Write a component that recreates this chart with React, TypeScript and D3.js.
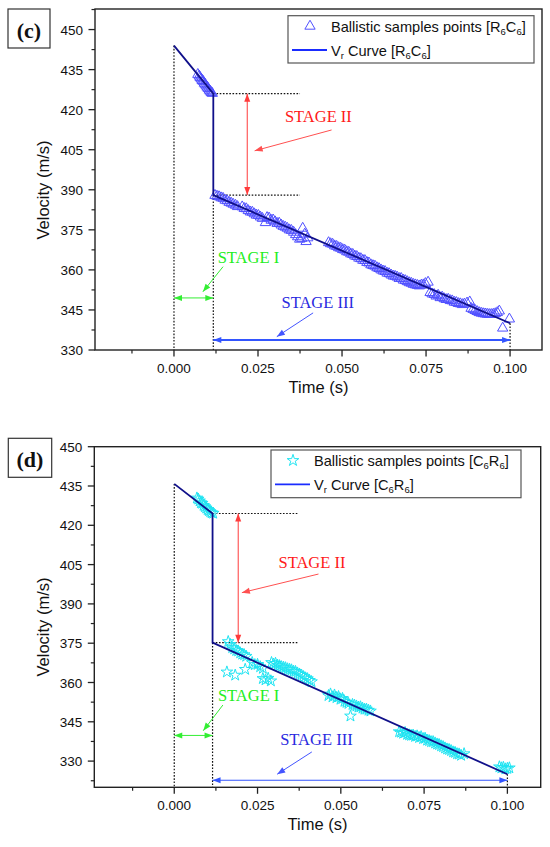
import React from 'react';
import * as d3 from 'd3';

// ---- tick values ----
const yTicksC = [330, 345, 360, 375, 390, 405, 420, 435, 450];
const yTicksD = [330, 345, 360, 375, 390, 405, 420, 435, 450];
const xTicks = [0, 0.025, 0.05, 0.075, 0.1];

// ---- panel (c): R6C6 ----
const curveC: [number, number][] = [[0, 444], [0.0117, 426], [0.0117, 388], [0.1, 340]];
const samplesC: [number, number][] = [
  [0.0071, 433.2], [0.0075, 432.6], [0.0078, 432.0], [0.0081, 431.5], [0.0084, 430.9], [0.0087, 430.6],
  [0.0090, 429.9], [0.0093, 429.5], [0.0096, 428.9], [0.0099, 428.4], [0.0102, 427.9], [0.0105, 427.3],
  [0.0108, 426.9], [0.0111, 426.4], [0.0114, 426.1],
  [0.0122, 387.9], [0.0128, 387.6], [0.0134, 387.4], [0.0140, 387.0], [0.0146, 386.8], [0.0152, 386.1],
  [0.0158, 385.9], [0.0164, 385.3], [0.0170, 385.0], [0.0176, 384.6], [0.0183, 384.2], [0.0189, 383.7],
  [0.0203, 383.6], [0.0209, 383.0], [0.0215, 382.9], [0.0221, 382.2], [0.0227, 381.7], [0.0233, 381.6],
  [0.0239, 381.0], [0.0245, 380.5], [0.0251, 380.4], [0.0257, 379.8], [0.0263, 379.3], [0.0272, 377.7],
  [0.0277, 379.6], [0.0283, 379.4], [0.0289, 378.6], [0.0295, 378.7], [0.0301, 378.0], [0.0307, 377.4],
  [0.0313, 377.5], [0.0319, 376.8], [0.0325, 376.3], [0.0331, 376.0], [0.0337, 375.6], [0.0343, 375.0],
  [0.0349, 374.8], [0.0356, 374.1], [0.0362, 373.2], [0.0368, 372.4], [0.0374, 371.5], [0.0380, 371.8],
  [0.0383, 375.6], [0.0389, 373.4], [0.0393, 370.6], [0.0398, 372.0],
  [0.0460, 370.2], [0.0466, 369.8], [0.0472, 369.6], [0.0478, 369.0], [0.0484, 368.8], [0.0490, 368.3],
  [0.0496, 368.1], [0.0502, 367.6], [0.0508, 367.4], [0.0514, 366.8], [0.0520, 366.6], [0.0526, 366.0],
  [0.0532, 365.8], [0.0538, 365.2], [0.0544, 365.0], [0.0550, 364.4], [0.0556, 364.2],
  [0.0562, 363.6], [0.0568, 363.5], [0.0574, 362.8], [0.0580, 362.6], [0.0586, 361.9], [0.0592, 361.6],
  [0.0598, 361.4], [0.0604, 360.8], [0.0610, 360.5], [0.0616, 360.0], [0.0622, 359.6], [0.0628, 359.4],
  [0.0634, 358.8], [0.0640, 358.6], [0.0646, 358.1], [0.0652, 357.7], [0.0658, 357.6],
  [0.0664, 357.3], [0.0670, 356.8], [0.0676, 356.8], [0.0682, 356.2], [0.0688, 356.0], [0.0694, 355.6],
  [0.0700, 355.2], [0.0706, 355.0], [0.0712, 354.6], [0.0718, 354.4], [0.0724, 354.2], [0.0730, 354.0],
  [0.0736, 354.3], [0.0742, 354.4], [0.0748, 354.9], [0.0756, 355.4],
  [0.0762, 351.5], [0.0768, 351.0], [0.0774, 350.8], [0.0780, 350.2], [0.0786, 350.5], [0.0792, 349.6],
  [0.0798, 349.8], [0.0804, 349.2], [0.0810, 348.9],
  [0.0816, 349.0], [0.0822, 348.5], [0.0828, 348.4], [0.0834, 347.9], [0.0840, 347.8], [0.0846, 347.4],
  [0.0852, 347.3], [0.0858, 347.0], [0.0864, 347.2], [0.0872, 347.6], [0.0880, 348.0],
  [0.0884, 345.6], [0.0890, 345.2], [0.0896, 344.8], [0.0902, 344.4], [0.0908, 344.0], [0.0914, 343.8],
  [0.0920, 343.6], [0.0926, 343.5], [0.0932, 343.4], [0.0938, 343.3], [0.0944, 343.3], [0.0950, 343.4],
  [0.0956, 343.6], [0.0962, 344.0], [0.0968, 344.6], [0.0998, 341.6], [0.0978, 338.2],
];

// ---- panel (d): C6R6 ----
const curveD: [number, number][] = [[0, 435.8], [0.0115, 424.5], [0.0115, 375.2], [0.1, 325]];
const samplesD: [number, number][] = [
  [0.0068, 430.4], [0.0072, 430.0], [0.0076, 429.3], [0.0080, 428.6], [0.0084, 428.4], [0.0088, 427.6],
  [0.0092, 427.1], [0.0096, 426.6], [0.0100, 426.0], [0.0104, 425.6], [0.0108, 425.2], [0.0112, 424.8],
  [0.0117, 424.6],
  [0.0162, 375.6], [0.0168, 374.5], [0.0174, 373.3], [0.0180, 372.8], [0.0186, 372.2], [0.0192, 372.0],
  [0.0198, 371.3], [0.0204, 370.8], [0.0210, 370.6], [0.0216, 370.0],
  [0.0158, 364.0], [0.0183, 362.8], [0.0213, 365.0],
  [0.0234, 367.6], [0.0242, 366.8], [0.0250, 366.9], [0.0258, 366.0], [0.0266, 365.4],
  [0.0266, 361.5], [0.0274, 361.0], [0.0282, 361.6], [0.0290, 360.6],
  [0.0292, 367.6], [0.0298, 367.0], [0.0304, 367.3], [0.0310, 366.6], [0.0316, 366.4], [0.0322, 366.0],
  [0.0328, 365.8], [0.0334, 365.6], [0.0340, 365.2], [0.0346, 365.0], [0.0352, 364.8], [0.0358, 364.3],
  [0.0364, 364.2], [0.0370, 363.6], [0.0376, 363.2], [0.0382, 362.8], [0.0388, 362.2], [0.0394, 361.7],
  [0.0400, 361.4], [0.0406, 360.8], [0.0412, 360.3],
  [0.0463, 355.0], [0.0469, 355.6], [0.0475, 354.5], [0.0481, 355.2], [0.0487, 354.2], [0.0493, 354.6],
  [0.0499, 353.6], [0.0505, 353.9], [0.0511, 352.8], [0.0517, 352.4], [0.0523, 352.0], [0.0529, 347.2],
  [0.0535, 351.6], [0.0541, 351.3], [0.0547, 351.0], [0.0553, 350.6], [0.0559, 350.7], [0.0565, 350.2],
  [0.0571, 349.8], [0.0577, 349.8], [0.0583, 349.4], [0.0589, 349.1],
  [0.0675, 341.2], [0.0681, 341.0], [0.0687, 340.6], [0.0693, 340.9], [0.0699, 340.2], [0.0705, 340.0],
  [0.0711, 339.8], [0.0717, 339.9], [0.0723, 339.4], [0.0729, 339.6], [0.0735, 339.0], [0.0741, 339.3],
  [0.0747, 338.6], [0.0753, 338.7], [0.0759, 338.0], [0.0765, 337.8], [0.0771, 337.4],
  [0.0777, 337.4], [0.0783, 336.9], [0.0789, 336.5], [0.0795, 336.3], [0.0801, 335.8], [0.0807, 335.5],
  [0.0813, 335.0], [0.0819, 334.6], [0.0825, 334.4], [0.0831, 334.0], [0.0837, 333.5], [0.0843, 333.3],
  [0.0849, 332.8], [0.0855, 332.7], [0.0861, 332.2], [0.0870, 332.8],
  [0.0976, 327.8], [0.0982, 327.4], [0.0988, 327.6], [0.0994, 327.0], [0.1000, 327.2], [0.1006, 327.4],
];

const SANS = "'Liberation Sans', Arial, sans-serif";
const SERIF = "'Liberation Serif', 'Times New Roman', serif";

type Pt = [number, number];

interface Annot {
  arrowII: { t: number; v0: number; v1: number };
  labelII: Pt; pointerII: [Pt, Pt];
  arrowI: { v: number; t0: number; t1: number };
  labelI: Pt; pointerI: [Pt, Pt];
  arrowIII: { v: number; t0: number; t1: number; w: number };
  labelIII: Pt; pointerIII: [Pt, Pt];
  guideEnd: number;
}

interface PanelCfg {
  tag: string;
  tagBox: { x: number; y: number; w: number; h: number };
  box: { left: number; top: number; right: number; bottom: number };
  xDomain: [number, number];
  yDomain: [number, number];
  yTicks: number[];
  curve: Pt[];
  samples: Pt[];
  marker: 'triangle' | 'star';
  legend: { x: number; y: number; w: number; h: number; sub1: string; sub2: string };
  ann: Annot;
  yTitleY: number;
}

const panels: PanelCfg[] = [
  {
    tag: '(c)',
    tagBox: { x: 8, y: 9, w: 42, h: 39 },
    box: { left: 95, top: 9, right: 542, bottom: 350 },
    xDomain: [-0.0235, 0.1095],
    yDomain: [330, 457.7],
    yTicks: yTicksC,
    curve: curveC,
    samples: samplesC,
    marker: 'triangle',
    legend: { x: 288, y: 15.7, w: 246, h: 47.3, sub1: 'R', sub2: 'C' },
    ann: {
      arrowII: { t: 0.0218, v0: 426, v1: 388 },
      labelII: [0.033, 415.4], pointerII: [[0.0469, 412.4], [0.024, 404.6]],
      arrowI: { v: 349.5, t0: 0, t1: 0.0117 },
      labelI: [0.013, 362.7], pointerI: [[0.0146, 361.2], [0.0086, 351.8]],
      arrowIII: { v: 333.7, t0: 0.0117, t1: 0.1, w: 2 },
      labelIII: [0.032, 345.6], pointerIII: [[0.0414, 343.9], [0.0306, 335.0]],
      guideEnd: 0.0375,
    },
    yTitleY: 190,
  },
  {
    tag: '(d)',
    tagBox: { x: 8.3, y: 438.3, w: 43.4, h: 39 },
    box: { left: 94.3, top: 446.7, right: 540.7, bottom: 787.3 },
    xDomain: [-0.024, 0.11],
    yDomain: [320, 450],
    yTicks: yTicksD,
    curve: curveD,
    samples: samplesD,
    marker: 'star',
    legend: { x: 271, y: 450, w: 250, h: 47.7, sub1: 'C', sub2: 'R' },
    ann: {
      arrowII: { t: 0.0192, v0: 424.5, v1: 375.2 },
      labelII: [0.0313, 403.6], pointerII: [[0.0433, 401.4], [0.0203, 394.3]],
      arrowI: { v: 339.8, t0: 0, t1: 0.0115 },
      labelI: [0.0131, 352.9], pointerI: [[0.0146, 351.4], [0.0087, 341.6]],
      arrowIII: { v: 322.7, t0: 0.0115, t1: 0.1, w: 1.2 },
      labelIII: [0.0318, 336.1], pointerIII: [[0.0413, 333.5], [0.0309, 325.0]],
      guideEnd: 0.037,
    },
    yTitleY: 627,
  },
];

function headPts(tip: Pt, from: Pt, len = 8, half = 3): string {
  const dx = tip[0] - from[0];
  const dy = tip[1] - from[1];
  const d = Math.hypot(dx, dy) || 1;
  const ux = dx / d, uy = dy / d;
  const bx = tip[0] - ux * len, by = tip[1] - uy * len;
  return `${tip[0]},${tip[1]} ${bx - uy * half},${by + ux * half} ${bx + uy * half},${by - ux * half}`;
}

function DoubleArrow({ a, b, color, w }: { a: Pt; b: Pt; color: string; w: number }) {
  return (
    <g>
      <line x1={a[0]} y1={a[1]} x2={b[0]} y2={b[1]} stroke={color} strokeWidth={w} />
      <polygon points={headPts(a, b)} fill={color} />
      <polygon points={headPts(b, a)} fill={color} />
    </g>
  );
}

function Pointer({ a, b, color }: { a: Pt; b: Pt; color: string }) {
  return (
    <g>
      <line x1={a[0]} y1={a[1]} x2={b[0]} y2={b[1]} stroke={color} strokeWidth={1} />
      <polygon points={headPts(b, a, 8, 3)} fill={color} />
    </g>
  );
}

function Panel({ cfg }: { cfg: PanelCfg }) {
  const { box, ann } = cfg;
  const x = d3.scaleLinear().domain(cfg.xDomain).range([box.left, box.right]);
  const y = d3.scaleLinear().domain(cfg.yDomain).range([box.bottom, box.top]);
  const P = (p: Pt): Pt => [x(p[0]), y(p[1])];

  const yMinor = d3.range(cfg.yTicks[0] - 7.5, cfg.yDomain[1], 15).filter(v => v >= cfg.yDomain[0] && v <= cfg.yDomain[1]);
  const xMinor = d3.range(-0.0125, cfg.xDomain[1], 0.025).filter(v => v >= cfg.xDomain[0]);

  const line = d3.line<Pt>().x(d => x(d[0])).y(d => y(d[1]));
  const tri = d3.symbol(d3.symbolTriangle, 46)()!;
  const star = d3.symbol(d3.symbolStar, 42)()!;
  const markerPath = cfg.marker === 'triangle' ? tri : star;
  const markerColor = cfg.marker === 'triangle' ? '#5050ff' : '#1fe4f2';

  const c = cfg.curve;
  const dot = { stroke: '#111', strokeWidth: 1.2, strokeDasharray: '1.6 1.6', fill: 'none' };
  const axisColor = '#222';

  const lg = cfg.legend;
  const sub = { fontSize: 9.5 };

  return (
    <g>
      {/* panel tag */}
      <rect x={cfg.tagBox.x} y={cfg.tagBox.y} width={cfg.tagBox.w} height={cfg.tagBox.h}
        fill="none" stroke="#333" strokeWidth={1.2} />
      <text x={cfg.tagBox.x + cfg.tagBox.w / 2} y={cfg.tagBox.y + 28.5} textAnchor="middle"
        fontFamily={SERIF} fontWeight="bold" fontSize={22} fill="#111">{cfg.tag}</text>

      {/* guide lines */}
      <line x1={x(c[0][0])} y1={y(c[0][1])} x2={x(c[0][0])} y2={box.bottom} {...dot} />
      <line x1={x(c[2][0])} y1={y(c[2][1])} x2={x(c[2][0])} y2={box.bottom} {...dot} />
      <line x1={x(c[1][0])} y1={y(c[1][1])} x2={x(ann.guideEnd)} y2={y(c[1][1])} {...dot} />
      <line x1={x(c[2][0])} y1={y(c[2][1])} x2={x(ann.guideEnd)} y2={y(c[2][1])} {...dot} />
      <line x1={x(c[3][0])} y1={y(c[3][1])} x2={x(c[3][0])} y2={box.bottom} {...dot} />

      {/* samples */}
      {cfg.samples.map((d, i) => (
        <path key={i} d={markerPath} transform={`translate(${x(d[0])},${y(d[1])})`}
          fill="none" stroke={markerColor} strokeWidth={1} />
      ))}

      {/* fitted curve */}
      <path d={line(c) ?? ''} fill="none" stroke="#10108a" strokeWidth={1.8} />

      {/* stage II */}
      <DoubleArrow a={P([ann.arrowII.t, ann.arrowII.v0])} b={P([ann.arrowII.t, ann.arrowII.v1])} color="#ff3b3b" w={1} />
      <Pointer a={P(ann.pointerII[0])} b={P(ann.pointerII[1])} color="#ff5050" />
      <text x={x(ann.labelII[0])} y={y(ann.labelII[1])} fontFamily={SERIF} fontSize={16.5} fill="#ff1a1a">STAGE II</text>

      {/* stage I */}
      <DoubleArrow a={P([ann.arrowI.t0, ann.arrowI.v])} b={P([ann.arrowI.t1, ann.arrowI.v])} color="#33ee33" w={1} />
      <Pointer a={P(ann.pointerI[0])} b={P(ann.pointerI[1])} color="#33ee33" />
      <text x={x(ann.labelI[0])} y={y(ann.labelI[1])} fontFamily={SERIF} fontSize={16.5} fill="#22ee22">STAGE I</text>

      {/* stage III */}
      <DoubleArrow a={P([ann.arrowIII.t0, ann.arrowIII.v])} b={P([ann.arrowIII.t1, ann.arrowIII.v])} color="#3355ff" w={ann.arrowIII.w} />
      <Pointer a={P(ann.pointerIII[0])} b={P(ann.pointerIII[1])} color="#4455ff" />
      <text x={x(ann.labelIII[0])} y={y(ann.labelIII[1])} fontFamily={SERIF} fontSize={16.5} fill="#2a2ae0">STAGE III</text>

      {/* frame */}
      <rect x={box.left} y={box.top} width={box.right - box.left} height={box.bottom - box.top}
        fill="none" stroke={axisColor} strokeWidth={1.4} />

      {/* y axis ticks */}
      {cfg.yTicks.map(v => (
        <g key={v}>
          <line x1={box.left - 6.5} x2={box.left} y1={y(v)} y2={y(v)} stroke={axisColor} strokeWidth={1.3} />
          <text x={box.left - 12} y={y(v) + 5} textAnchor="end" fontFamily={SANS} fontSize={13.5} fill="#111">{v}</text>
        </g>
      ))}
      {yMinor.map(v => (
        <line key={v} x1={box.left - 3.5} x2={box.left} y1={y(v)} y2={y(v)} stroke={axisColor} strokeWidth={1.2} />
      ))}

      {/* x axis ticks */}
      {xTicks.map(t => (
        <g key={t}>
          <line x1={x(t)} x2={x(t)} y1={box.bottom} y2={box.bottom + 6.5} stroke={axisColor} strokeWidth={1.3} />
          <text x={x(t)} y={box.bottom + 23} textAnchor="middle" fontFamily={SANS} fontSize={13.5} fill="#111">{t.toFixed(3)}</text>
        </g>
      ))}
      {xMinor.map(t => (
        <line key={t} x1={x(t)} x2={x(t)} y1={box.bottom} y2={box.bottom + 3.5} stroke={axisColor} strokeWidth={1.2} />
      ))}

      {/* axis titles */}
      <text x={(box.left + box.right) / 2} y={box.bottom + 43} textAnchor="middle" fontFamily={SANS} fontSize={16.5} fill="#111">Time (s)</text>
      <text transform={`translate(49,${cfg.yTitleY}) rotate(-90)`} textAnchor="middle" fontFamily={SANS} fontSize={16.5} fill="#111">Velocity (m/s)</text>

      {/* legend */}
      <rect x={lg.x} y={lg.y} width={lg.w} height={lg.h} fill="#fff" stroke="#555" strokeWidth={1.2} />
      <path d={markerPath} transform={`translate(${lg.x + 22},${lg.y + 10.5})`} fill="none" stroke={markerColor} strokeWidth={1} />
      <text x={lg.x + 43} y={lg.y + 16.3} fontFamily={SANS} fontSize={14.6} fill="#111">
        <tspan>Ballistic samples points [{lg.sub1}</tspan>
        <tspan {...sub} dy={3}>6</tspan>
        <tspan dy={-3}>{lg.sub2}</tspan>
        <tspan {...sub} dy={3}>6</tspan>
        <tspan dy={-3}>]</tspan>
      </text>
      <line x1={lg.x + 4} x2={lg.x + 39} y1={lg.y + 34.3} y2={lg.y + 34.3} stroke="#1a2cff" strokeWidth={1.8} />
      <text x={lg.x + 43} y={lg.y + 40} fontFamily={SANS} fontSize={14.6} fill="#111">
        <tspan>V</tspan>
        <tspan {...sub} dy={3}>r</tspan>
        <tspan dy={-3}> Curve [{lg.sub1}</tspan>
        <tspan {...sub} dy={3}>6</tspan>
        <tspan dy={-3}>{lg.sub2}</tspan>
        <tspan {...sub} dy={3}>6</tspan>
        <tspan dy={-3}>]</tspan>
      </text>
    </g>
  );
}

export default function App() {
  return (
    <svg width={550} height={847} viewBox="0 0 550 847"
      style={{ position: 'absolute', left: 0, top: 0, background: '#fff' }}>
      <rect width={550} height={847} fill="#fff" />
      {panels.map(p => <Panel key={p.tag} cfg={p} />)}
    </svg>
  );
}
